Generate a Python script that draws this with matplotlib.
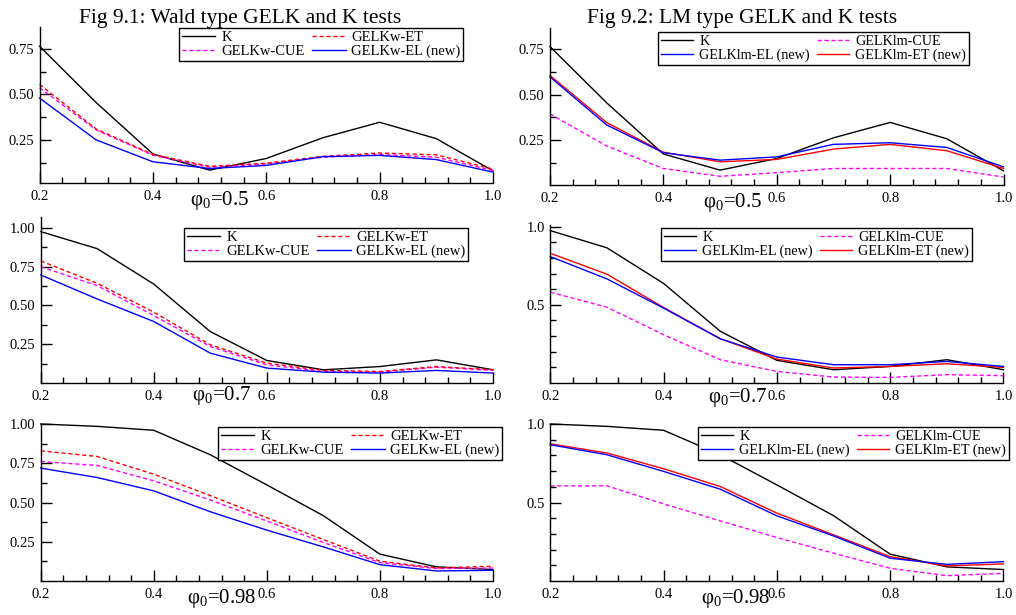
import matplotlib
matplotlib.use("Agg")
import matplotlib.pyplot as plt
import numpy as np
from matplotlib.ticker import MultipleLocator, FixedLocator

plt.rcParams['font.family'] = ['Liberation Serif', 'DejaVu Serif']
plt.rcParams['mathtext.fontset'] = 'custom'
plt.rcParams['mathtext.rm'] = 'Liberation Serif'
plt.rcParams['mathtext.it'] = 'Liberation Serif:italic'

# ---------------- data ----------------
x = [0.2, 0.3, 0.4, 0.5, 0.6, 0.7, 0.8, 0.9, 1.0]

# phi0 = 0.5
K_05 = [0.765, 0.455, 0.173, 0.084, 0.148, 0.262, 0.347, 0.257, 0.080]
wET_05 = [0.555, 0.310, 0.170, 0.105, 0.122, 0.160, 0.178, 0.168, 0.090]
wCUE_05 = [0.537, 0.305, 0.166, 0.100, 0.118, 0.155, 0.170, 0.155, 0.082]
wEL_05 = [0.480, 0.250, 0.130, 0.093, 0.110, 0.158, 0.165, 0.142, 0.073]
lmEL_05 = [0.598, 0.333, 0.180, 0.139, 0.157, 0.226, 0.235, 0.209, 0.102]
lmET_05 = [0.606, 0.346, 0.183, 0.130, 0.143, 0.200, 0.226, 0.191, 0.093]
lmCUE_05 = [0.394, 0.217, 0.093, 0.050, 0.070, 0.093, 0.093, 0.093, 0.046]

# phi0 = 0.7
K_07 = [0.975, 0.865, 0.637, 0.331, 0.145, 0.085, 0.106, 0.149, 0.085]
wET_07 = [0.786, 0.642, 0.456, 0.246, 0.128, 0.081, 0.074, 0.106, 0.085]
wCUE_07 = [0.749, 0.627, 0.434, 0.235, 0.117, 0.074, 0.070, 0.102, 0.081]
wEL_07 = [0.696, 0.541, 0.396, 0.192, 0.096, 0.070, 0.064, 0.081, 0.064]
lmEL_07 = [0.809, 0.666, 0.479, 0.283, 0.166, 0.117, 0.117, 0.138, 0.106]
lmET_07 = [0.830, 0.696, 0.483, 0.283, 0.153, 0.096, 0.106, 0.123, 0.100]
lmCUE_07 = [0.581, 0.485, 0.309, 0.149, 0.074, 0.038, 0.036, 0.053, 0.047]

# phi0 = 0.98
K_098 = [1.000, 0.985, 0.960, 0.804, 0.612, 0.416, 0.171, 0.090, 0.073]
wET_098 = [0.829, 0.793, 0.680, 0.544, 0.403, 0.264, 0.126, 0.083, 0.094]
wCUE_098 = [0.761, 0.736, 0.638, 0.516, 0.382, 0.245, 0.117, 0.079, 0.083]
wEL_098 = [0.719, 0.659, 0.574, 0.441, 0.324, 0.217, 0.104, 0.064, 0.068]
lmEL_098 = [0.868, 0.804, 0.698, 0.585, 0.415, 0.287, 0.145, 0.106, 0.123]
lmET_098 = [0.874, 0.815, 0.715, 0.602, 0.432, 0.294, 0.155, 0.096, 0.109]
lmCUE_098 = [0.606, 0.606, 0.491, 0.383, 0.277, 0.177, 0.081, 0.034, 0.049]

titles = ["Fig 9.1: Wald type GELK and K tests", "Fig 9.2: LM type GELK and K tests"]
xlabels = [r"φ$_{0}$=0.5", r"φ$_{0}$=0.7", r"φ$_{0}$=0.98"]
xticks = [0.2, 0.4, 0.6, 0.8, 1.0]
xticklabels = ["0.2", "0.4", "0.6", "0.8", "1.0"]

# ---------------- layout ----------------
W, H = 1016, 615
fig = plt.figure(figsize=(W / 100, H / 100), dpi=100)

def add_ax(l, r, t, b):
    return fig.add_axes([l / W, 1 - b / H, (r - l) / W, (b - t) / H])

boxes = [
    (39.5, 493, 26.7, 182.7), (550, 1003.5, 28.3, 185),
    (40.7, 493, 216.7, 383), (550.3, 1003.5, 225, 383),
    (40.7, 493, 424, 581), (550.3, 1003.5, 424, 581),
]
ylims = [(0.015, 0.872), (0.002, 0.866), (0.0, 1.071), (0.0, 1.011), (0.0, 1.0), (0.0, 1.0)]
legend_pos = [(179, 28), (658, 32), (184, 228), (661, 228), (218, 427), (698, 427)]
xlabel_pos = [(190, 205), (703, 207), (192, 400), (708, 402), (187, 603), (701, 603)]

BLACK, RED, MAG, BLUE = "#000000", "#ff0000", "#ff00ff", "#0000ff"
dash = (0, (3, 2))

wald = [(K_05, wET_05, wCUE_05, wEL_05), (K_07, wET_07, wCUE_07, wEL_07), (K_098, wET_098, wCUE_098, wEL_098)]
lm = [(K_05, lmEL_05, lmCUE_05, lmET_05), (K_07, lmEL_07, lmCUE_07, lmET_07), (K_098, lmEL_098, lmCUE_098, lmET_098)]

lw = 1.0
for i in range(6):
    row, col = divmod(i, 2)
    ax = add_ax(*boxes[i])
    if col == 0:
        K, ET, CUE, EL = wald[row]
        hK, = ax.plot(x, K, color=BLACK, lw=lw, label="K")
        hC, = ax.plot(x, CUE, color=MAG, lw=lw, ls=dash, label="GELKw-CUE")
        hE, = ax.plot(x, ET, color=RED, lw=lw, ls=dash, label="GELKw-ET")
        hL, = ax.plot(x, EL, color=BLUE, lw=lw, label="GELKw-EL (new)")
        handles = [hK, hC, hE, hL]
        lfs = 10.5
    else:
        K, EL, CUE, ET = lm[row]
        hK, = ax.plot(x, K, color=BLACK, lw=lw, label="K")
        hC, = ax.plot(x, CUE, color=MAG, lw=lw, ls=dash, label="GELKlm-CUE")
        hE, = ax.plot(x, ET, color=RED, lw=lw, label="GELKlm-ET (new)")
        hL, = ax.plot(x, EL, color=BLUE, lw=lw, label="GELKlm-EL (new)")
        handles = [hK, hL, hC, hE]
        lfs = 10.2
    for ln in ax.lines:
        ln.set_clip_on(False)

    ax.set_xlim(0.2, 1.0)
    ax.set_ylim(*ylims[i])
    for s in ("top", "right"):
        ax.spines[s].set_visible(False)
    for s in ("left", "bottom"):
        ax.spines[s].set_linewidth(1.0)

    ax.xaxis.set_major_locator(FixedLocator(xticks))
    ax.set_xticklabels(xticklabels)
    ax.xaxis.set_minor_locator(MultipleLocator(0.04))
    if col == 0:
        yt = [v for v in (0.25, 0.5, 0.75, 1.0) if v <= ylims[i][1] + 1e-9]
        ax.yaxis.set_major_locator(FixedLocator(yt))
        ax.set_yticklabels([f"{v:.2f}" for v in yt])
        ax.yaxis.set_minor_locator(FixedLocator([0.125, 0.375, 0.625, 0.875]))
    else:
        yt = [0.25, 0.5, 0.75] if row == 0 else [0.5, 1.0]
        ax.yaxis.set_major_locator(FixedLocator(yt))
        ax.set_yticklabels([f"{v:.2f}" for v in yt] if row == 0 else ["0.5", "1.0"])
        if row == 0:
            ax.yaxis.set_minor_locator(FixedLocator([0.125, 0.375, 0.625]))
        else:
            ax.yaxis.set_minor_locator(FixedLocator([0.1, 0.2, 0.3, 0.4, 0.6, 0.7, 0.8, 0.9]))
    ax.tick_params(which="major", direction="in", length=8, width=1.0, labelsize=10.5, pad=5)
    ax.tick_params(which="minor", direction="in", length=4, width=1.0)
    ax.tick_params(axis="y", which="major", pad=4)

    lx, ly = legend_pos[i]
    leg = ax.legend(handles=handles, ncol=2, loc="upper left",
                    bbox_to_anchor=(lx / W, 1 - ly / H), bbox_transform=fig.transFigure,
                    borderaxespad=0, fontsize=lfs, frameon=True, fancybox=False,
                    edgecolor="black", framealpha=1, handlelength=2.3,
                    handletextpad=0.4, columnspacing=0.5, labelspacing=0.05,
                    borderpad=0.2)
    leg.get_frame().set_linewidth(1.0)

    fx, fy = xlabel_pos[i]
    fig.text(fx / W, 1 - fy / H, xlabels[row], fontsize=15, ha="left", va="baseline")

fig.text(240 / W, 1 - 23 / H, titles[0], fontsize=15.5, ha="center", va="baseline")
fig.text(742 / W, 1 - 23 / H, titles[1], fontsize=15.5, ha="center", va="baseline")

fig.savefig("out.png", dpi=100)
